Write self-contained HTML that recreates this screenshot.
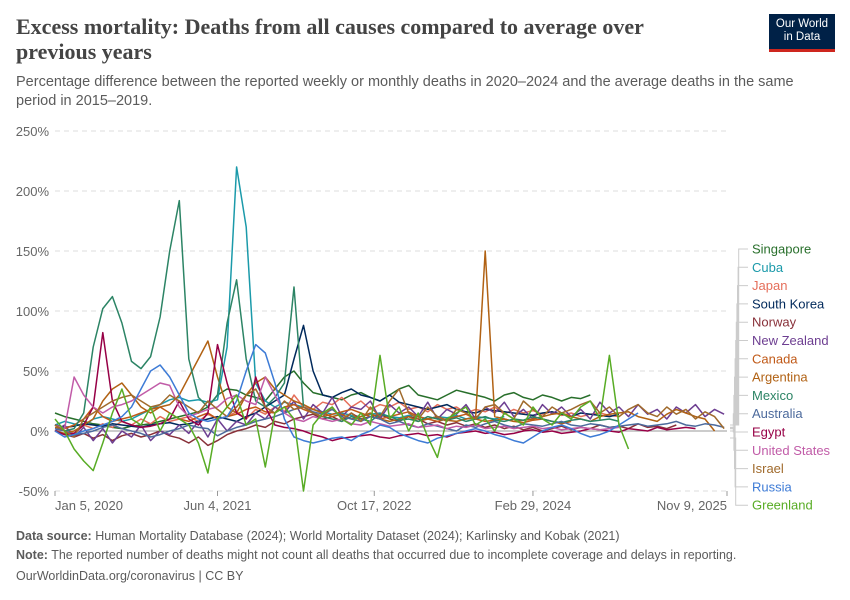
<!DOCTYPE html>
<html><head><meta charset="utf-8">
<style>
body{margin:0;background:#fff;width:850px;height:600px;overflow:hidden;font-family:"Liberation Sans",sans-serif;}
#wrap{position:relative;width:850px;height:600px;}
h1{position:absolute;left:16px;top:14px;margin:0;font:bold 22px/25px "Liberation Serif",serif;color:#444;width:700px;}
.sub{position:absolute;left:16px;top:73px;font-size:14.5px;line-height:19px;color:#5b5b5b;width:790px;}
.logo{position:absolute;left:769px;top:14px;width:66px;height:38px;background:#002147;color:#fff;font-size:11.5px;line-height:13px;text-align:center;padding-top:4px;box-sizing:border-box;border-bottom:3px solid #ce261e;}
.foot{position:absolute;left:16px;font-size:12.5px;color:#5b5b5b;}
</style></head><body>
<div id="wrap">
<h1>Excess mortality: Deaths from all causes compared to average over previous years</h1>
<div class="sub">Percentage difference between the reported weekly or monthly deaths in 2020–2024 and the average deaths in the same period in 2015–2019.</div>
<div class="logo">Our World<br>in Data</div>
<svg id="chart" width="850" height="600" style="position:absolute;left:0;top:0"></svg>
<div class="foot" style="top:529px"><b>Data source:</b> Human Mortality Database (2024); World Mortality Dataset (2024); Karlinsky and Kobak (2021)</div>
<div class="foot" style="top:548px"><b>Note:</b> The reported number of deaths might not count all deaths that occurred due to incomplete coverage and delays in reporting.</div>
<div class="foot" style="top:569px">OurWorldinData.org/coronavirus | CC BY</div>
</div>
<script>
const yTicks=[250,200,150,100,50,0,-50];
const xTickLabels=["Jan 5, 2020","Jun 4, 2021","Oct 17, 2022","Feb 29, 2024","Nov 9, 2025"];
const xTickMonths=[0,17,33.4,50,70.3];
const seriesNames=["Singapore","Cuba","Japan","South Korea","Norway","New Zealand","Canada","Argentina","Mexico","Australia","Egypt","United States","Israel","Russia","Greenland"];
const seriesColors=["#286f2b","#1b9aaa","#e56e5a","#00295b","#883039","#6d3e91","#c05917","#b16214","#2c8465","#4c6a9c","#970046","#c15ca8","#a06a2c","#3d7bd6","#58ac25"];
const singapore=[15,12,10,8,6,5,3,2,4,5,6,8,10,12,14,16,20,30,35,34,30,28,25,35,45,50,40,32,30,28,26,30,32,28,25,30,35,38,30,28,26,30,34,32,30,28,25,30,32,28,26,30,28,25,28,27,30];
const cuba=[5,8,6,4,10,12,10,8,10,14,18,22,26,28,25,26,24,26,70,220,170,40,25,20,24,22,20,18,16,14,15,13,12,14,15,12,11,13,12,10,12,11,13,10,12,11,10,12];
const japan=[0,3,-2,5,2,6,3,8,5,10,6,12,8,10,12,8,14,10,12,16,10,18,14,20,16,30,20,18,24,22,28,20,25,18,22,20,24,18,20,16,22,18,20,15,18,16,20,14,18,15,17,14,16,13,15,12,14,15,13,12];
const southKorea=[5,3,4,6,5,4,6,5,4,3,5,6,7,5,6,8,10,12,10,8,12,15,20,25,30,60,88,50,30,28,32,35,30,28,25,30,24,22,20,18,20,22,18,16,15,18,17,16,15,14,13,15,16,14,12,15,14,13,12,14];
const norway=[0,-3,-5,-2,-6,-3,-8,-4,-2,-5,-3,0,-4,-6,-10,-5,-12,-8,-3,0,2,5,3,8,6,10,12,14,10,12,8,15,10,12,14,10,8,12,10,6,8,5,7,4,6,3,5,2,4,1,3,0,2,4,1,3,2,5,3,4,2,6,3,4,2,5];
const newZealand=[0,5,-5,3,-8,2,-10,0,-5,5,-8,0,-3,5,-2,8,-5,10,0,8,5,15,10,20,15,25,10,22,15,28,12,20,18,25,10,22,15,20,12,24,10,18,14,22,10,20,15,24,12,18,10,22,14,20,12,18,10,24,15,20,12,22,14,18,10,20,15,22,12,18,14];
const canada=[3,2,5,10,20,12,8,10,12,15,18,20,15,10,8,12,15,10,12,14,18,20,16,15,20,22,18,15,12,14,16,18,15,12,10,12,14,16,12,10,8,10,12,14,10,8,9,10,8,7,9,10,8,6,8];
const argentina=[0,-2,0,5,10,25,35,40,30,20,15,20,22,30,45,60,75,45,20,15,30,40,45,35,30,25,22,18,15,12,14,10,12,15,10,8,10,12,8,10,12,9,8,10,11,150,12,10,8,9,10,12,14,15,12,10,8,12,14,15,16,12,10,8,14,18,15,12,10,0];
const mexico=[5,0,2,15,70,102,112,90,58,52,62,95,150,192,60,28,20,30,90,126,60,25,20,28,40,120,20,15,12,10,8,12,10,8,14,12,9,10,8,12,10,9,11,8,10,12,9,8,10,9,12,10,8,7,9,10,8,9,10,8];
const australia=[2,0,-3,-2,0,3,5,2,0,-2,-5,-3,0,2,5,3,2,-4,0,3,5,8,10,12,15,18,20,16,14,18,12,10,8,12,10,6,8,5,3,6,4,2,0,5,3,6,8,5,3,6,5,4,6,8,5,4,6,5,3,4,5,6,4,5,6,8,5,4,6,5,3];
const egypt=[0,-3,-2,5,20,82,25,8,5,3,4,6,10,25,10,5,15,72,40,15,10,45,20,5,3,2,0,-3,-5,-8,-6,-5,-4,-3,-5,-6,-4,-3,-2,-4,-3,-5,-2,-1,0,-2,-1,-3,-2,0,1,-1,0,-2,-1,0,2,1,0,-1,2,1,0,3,1,2,3,2];
const unitedStates=[5,2,45,30,20,15,20,22,25,30,35,40,38,20,12,15,18,20,27,30,25,22,45,30,15,10,8,12,10,8,10,6,5,8,6,4,5,6,3,4,5,2,4,3,5,2,3,4,2,3,4,2,3,1,2,3,2,1,2,3];
const israel=[5,0,-5,10,15,20,25,28,30,25,20,22,30,25,20,15,25,18,12,20,30,35,20,15,25,18,20,15,12,20,10,15,8,20,12,25,35,15,10,20,12,8,18,15,10,20,22,15,10,25,18,12,20,15,18,22,25,15,20,12,18,22,15,12,20,14,18,10,16,12,2];
const russia=[0,-5,-3,0,2,5,8,12,20,35,50,55,45,30,15,10,8,10,12,25,50,72,65,40,10,-5,-8,-10,-8,-6,-5,-8,-3,0,5,3,-2,-5,-8,-10,-6,-4,-2,0,2,0,-3,-5,-8,-10,-5,0,3,5,2,-2,-5,-3,0,5,10,15];
const greenland=[10,0,-15,-25,-33,-10,15,35,10,5,20,0,15,10,5,-10,-35,10,20,30,5,10,-30,15,20,10,-50,5,15,20,10,5,15,5,63,10,20,0,15,-5,-22,10,15,20,5,10,0,15,10,5,20,10,5,15,10,20,25,10,63,5,-15];
const seriesValues=[singapore,cuba,japan,southKorea,norway,newZealand,canada,argentina,mexico,australia,egypt,unitedStates,israel,russia,greenland];

const NS="http://www.w3.org/2000/svg";
const svg=document.getElementById('chart');
const X0=55,X1=727,MMAX=70.3;
function xScale(m){return X0+m*(X1-X0)/MMAX;}
function yScale(v){return 431-v*1.2;}
function mk(t,a){const e=document.createElementNS(NS,t);for(const k in a)e.setAttribute(k,a[k]);svg.appendChild(e);return e;}

yTicks.forEach(v=>{
  const l=mk('line',{x1:X0,x2:X1,y1:yScale(v),y2:yScale(v),stroke:v===0?'#999':'#ddd','stroke-dasharray':v===0?'':'5,4'});
  
  
  const t=mk('text',{x:49,y:yScale(v)+5,'text-anchor':'end','font-size':13,fill:'#666','font-family':'Liberation Sans, sans-serif'});
  t.textContent=v+'%';
  
  
});
xTickLabels.forEach((s,i)=>{
  const x=xScale(xTickMonths[i]);
  const tk=mk('line',{x1:x,x2:x,y1:491,y2:496,stroke:'#999'});
  
  
  const anchor=i===0?'start':(i===xTickLabels.length-1?'end':'middle');
  const t=mk('text',{x:i===0?X0:x,y:510,'text-anchor':anchor,'font-size':13,fill:'#666','font-family':'Liberation Sans, sans-serif'});
  t.textContent=s;
  
  
});
seriesValues.forEach((vals,i)=>{
  const d=vals.map((v,j)=>(j?'L':'M')+xScale(j).toFixed(1)+','+yScale(v).toFixed(1)).join('');
  const p=mk('path',{d:d,fill:'none',stroke:seriesColors[i],'stroke-width':1.5,'stroke-linejoin':'round'});
  
  
});
seriesNames.forEach((n,i)=>{
  const ly=249+i*18.3;
  const vals=seriesValues[i];
  const ey=yScale(vals[vals.length-1]);
  const bx=733+Math.abs(i-9.5)*0.6;
  const c=mk('path',{d:'M730,'+Math.min(Math.max(ey,425),438).toFixed(1)+'L'+bx.toFixed(1)+','+Math.min(Math.max(ey,425),438).toFixed(1)+'L'+bx.toFixed(1)+','+ly+'L748,'+ly,fill:'none',stroke:'#ccc','stroke-width':1});
  
  
  const t=mk('text',{x:752,y:ly+4.5,'font-size':13,fill:seriesColors[i],'font-family':'Liberation Sans, sans-serif'});
  t.textContent=n;
  
  
});
</script>
</body></html>
